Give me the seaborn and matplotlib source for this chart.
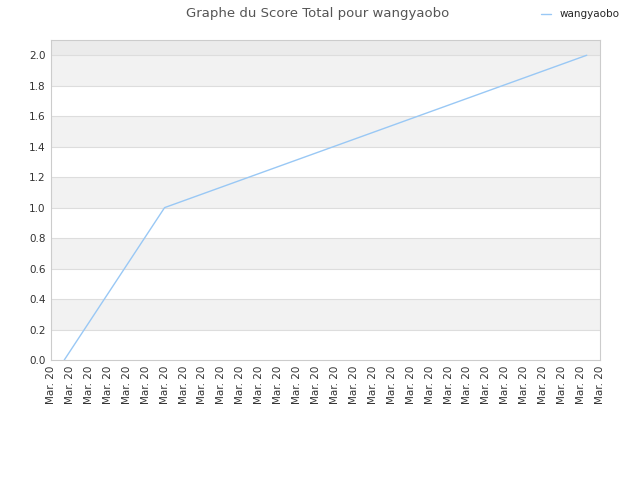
import matplotlib
matplotlib.use("Agg")
import matplotlib.pyplot as plt
import seaborn as sns
import pandas as pd
import numpy as np

# data
series_name = "wangyaobo"
x_positions = [0.7, 6.0, 28.3]
scores = [0.0, 1.0, 2.0]
tick_labels = ["Mar. 20"] * 30
title = "Graphe du Score Total pour wangyaobo"

sns.set_theme(style="white")
plt.rcParams['font.family'] = ['DejaVu Sans']

fig = plt.figure(figsize=(6.4, 4.8), dpi=100)
ax = fig.add_axes([51/640, 120/480, 549/640, 320/480])

ymax = 2.1
# alternating bands
for i, lo in enumerate(np.arange(0, 2.0, 0.2)):
    if i % 2 == 1:
        ax.axhspan(lo, lo + 0.2, color="#f2f2f2", zorder=0, lw=0)
ax.axhspan(2.0, ymax, color="#ebebeb", zorder=0, lw=0)
for yv in np.arange(0.2, 2.01, 0.2):
    ax.axhline(yv, color="#dddddd", lw=0.8, zorder=1)

df = pd.DataFrame({"x": x_positions, "score": scores, "name": series_name})
sns.lineplot(data=df, x="x", y="score", hue="name", palette=["#99c8f5"],
             ax=ax, lw=1.0, legend=False, zorder=3)

ax.set_xlim(0, len(tick_labels) - 1)
ax.set_ylim(0, ymax)
ax.set_xticks(range(len(tick_labels)))
ax.set_xticklabels(tick_labels, rotation=90, fontsize=7.5, color="#333333")
ax.set_yticks(np.arange(0, 2.01, 0.2))
ax.set_yticklabels([f"{v:.1f}" for v in np.arange(0, 2.01, 0.2)], fontsize=7.5, color="#333333")
ax.tick_params(axis="both", length=0, pad=4)
ax.set_xlabel("")
ax.set_ylabel("")
for s in ax.spines.values():
    s.set_color("#cccccc")
    s.set_linewidth(0.8)

fig.text(0.497, 0.985, title, ha="center", va="top", fontsize=9.5, color="#555555")
from matplotlib.lines import Line2D
handle = Line2D([], [], color="#99c8f5", lw=1.0)
fig.legend([handle], [series_name], loc="upper right", bbox_to_anchor=(0.983, 1.0),
           frameon=False, fontsize=7.5, handlelength=1.0)

fig.savefig("out.png", dpi=100)
